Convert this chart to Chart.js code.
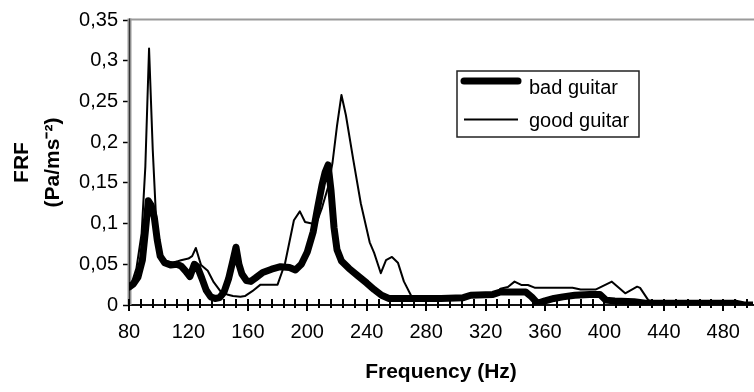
<!DOCTYPE html>
<html>
<head>
<meta charset="utf-8">
<script src="https://cdn.jsdelivr.net/npm/chart.js@4/dist/chart.umd.min.js"></script>
<style>
  html, body { margin: 0; padding: 0; overflow: hidden; background: #fff; }
  #wrap { position: relative; width: 760px; height: 392px; }
</style>
</head>
<body>
<div id="wrap"><canvas id="frf"></canvas></div>
<script>
// values
const badFreq = [80, 83, 86, 89, 91, 93, 95, 97, 99, 101, 104, 108, 112, 115, 118, 121, 124, 126, 129, 132,
  135, 138, 141, 144, 147, 150, 152, 154, 156, 159, 162, 165, 170, 176, 182, 188, 192, 196, 200, 204,
  207, 210, 212, 214, 216, 218, 220, 223, 228, 234, 240, 245, 250, 255, 260, 270, 290, 305, 310, 325,
  330, 347, 351, 355, 360, 366, 372, 380, 390, 397, 401, 407, 420, 429, 460, 489, 494, 500];
const badVal = [0.022, 0.026, 0.034, 0.055, 0.09, 0.128, 0.122, 0.108, 0.08, 0.06, 0.052, 0.049, 0.05, 0.048, 0.042, 0.035, 0.05, 0.047, 0.033, 0.018,
  0.01, 0.008, 0.009, 0.016, 0.032, 0.055, 0.071, 0.05, 0.038, 0.03, 0.029, 0.033, 0.04, 0.044, 0.047, 0.046, 0.043, 0.05, 0.065, 0.09,
  0.12, 0.148, 0.163, 0.172, 0.14, 0.095, 0.068, 0.054, 0.045, 0.036, 0.027, 0.019, 0.012, 0.008, 0.008, 0.008, 0.008, 0.009, 0.012, 0.013,
  0.016, 0.016, 0.01, 0.002, 0.005, 0.008, 0.01, 0.012, 0.013, 0.013, 0.006, 0.005, 0.004, 0.002, 0.002, 0.002, 0.0, 0.0];

const goodFreq = [80, 82, 85, 88.5, 91, 93.5, 96, 98.5, 100.7, 105, 110, 115, 120, 122.5, 125, 128.5, 133, 137, 141.5, 146,
  150, 155, 158, 163, 168.5, 180, 185, 191, 195, 198.5, 203, 206, 210, 214, 217, 220, 223, 226, 231, 236,
  242, 245, 249.5, 253, 257, 261, 265, 270, 273, 290, 305, 320, 327, 330, 335, 339.5, 344, 348.5, 353, 378.5,
  384, 394, 405, 414, 422, 424, 429.5, 440, 489, 494, 500];
const goodVal = [0.026, 0.028, 0.045, 0.088, 0.17, 0.315, 0.19, 0.096, 0.064, 0.054, 0.052, 0.055, 0.057, 0.06, 0.07, 0.049, 0.042, 0.028, 0.017, 0.013,
  0.011, 0.01, 0.011, 0.017, 0.025, 0.025, 0.051, 0.104, 0.115, 0.102, 0.1, 0.1, 0.12, 0.145, 0.175, 0.22, 0.258, 0.233, 0.178, 0.125,
  0.077, 0.064, 0.039, 0.055, 0.059, 0.052, 0.029, 0.011, 0.008, 0.008, 0.01, 0.013, 0.014, 0.02, 0.022, 0.0287, 0.0246, 0.0246, 0.0213, 0.0213,
  0.019, 0.019, 0.0287, 0.0144, 0.0225, 0.021, 0.006, 0.002, 0.002, 0.0, 0.0];

const seriesNames = ['bad guitar', 'good guitar'];
const xMin = 80, xMax = 500, xStep = 8, xLabelStep = 40;
const yMin = 0, yMax = 0.35, yStep = 0.05;

const FONT = '"Liberation Sans", Arial, sans-serif';
Chart.defaults.font.family = FONT;
Chart.defaults.color = '#000';

const toPts = (xs, ys) => xs.map((x, i) => ({ x: x, y: ys[i] }));

// frame lines + ticks that cross the x axis
const framePlugin = {
  id: 'frame',
  beforeDatasetsDraw(chart) {
    const { ctx, chartArea: a } = chart;
    ctx.save();
    ctx.strokeStyle = '#9a9a9a';
    ctx.lineWidth = 2;
    ctx.beginPath();
    ctx.moveTo(a.left, a.top - 0.5);
    ctx.lineTo(a.right + 5, a.top - 0.5);
    ctx.stroke();
    ctx.lineWidth = 4;
    ctx.beginPath();
    ctx.moveTo(a.left + 0.5, a.top - 1.5);
    ctx.lineTo(a.left + 0.5, a.bottom);
    ctx.stroke();
    ctx.strokeStyle = '#333';
    ctx.lineWidth = 1.2;
    ctx.beginPath();
    ctx.moveTo(a.left + 0.5, a.top - 1.5);
    ctx.lineTo(a.left + 0.5, a.bottom);
    ctx.stroke();

    const xs = chart.scales.x;
    ctx.strokeStyle = '#000';
    ctx.lineWidth = 2;
    for (let v = xMin; v <= xMax; v += xStep) {
      const px = Math.round(xs.getPixelForValue(v));
      const major = (v - xMin) % xLabelStep === 0;
      ctx.beginPath();
      ctx.moveTo(px, a.bottom - 6);
      ctx.lineTo(px, a.bottom + (major ? 6 : 3));
      ctx.stroke();
    }
    ctx.restore();
  }
};

const legendPlugin = {
  id: 'boxLegend',
  afterDraw(chart) {
    const { ctx } = chart;
    const ds = chart.data.datasets;
    ctx.save();
    ctx.fillStyle = '#fff';
    ctx.fillRect(457, 71, 182, 66);
    ctx.strokeStyle = '#222';
    ctx.lineWidth = 1.5;
    ctx.strokeRect(457, 71, 182, 66);
    const rows = [{ y: 81, ty: 93.5 }, { y: 119.5, ty: 126.5 }];
    ds.forEach((d, i) => {
      ctx.strokeStyle = d.borderColor;
      ctx.lineWidth = d.borderWidth;
      ctx.lineCap = d.borderWidth > 4 ? 'round' : 'butt';
      ctx.beginPath();
      ctx.moveTo(464, rows[i].y);
      ctx.lineTo(518, rows[i].y);
      ctx.stroke();
      ctx.fillStyle = '#000';
      ctx.font = '20px ' + FONT;
      ctx.textBaseline = 'alphabetic';
      ctx.textAlign = 'left';
      ctx.fillText(d.label, 529, rows[i].ty);
    });
    ctx.restore();
  }
};

new Chart(document.getElementById('frf'), {
  type: 'line',
  data: {
    datasets: [
      {
        label: seriesNames[0],
        data: toPts(badFreq, badVal),
        borderColor: '#000',
        borderWidth: 7,
        borderJoinStyle: 'round',
        borderCapStyle: 'round',
        pointRadius: 0,
        tension: 0
      },
      {
        label: seriesNames[1],
        data: toPts(goodFreq, goodVal),
        borderColor: '#000',
        borderWidth: 2,
        borderJoinStyle: 'round',
        pointRadius: 0,
        tension: 0
      }
    ]
  },
  options: {
    responsive: true,
    maintainAspectRatio: false,
    animation: false,
    layout: { padding: { top: 20, right: 1, left: 0, bottom: 0 } },
    plugins: {
      legend: { display: false },
      tooltip: { enabled: false }
    },
    scales: {
      x: {
        type: 'linear',
        min: xMin,
        max: xMax,
        afterFit(scale) { scale.height = 87; },
        border: { color: '#111', width: 2 },
        grid: { drawOnChartArea: false, tickLength: 8, tickColor: 'rgba(0,0,0,0)' },
        ticks: {
          stepSize: xStep,
          maxTicksLimit: 100,
          autoSkip: false,
          maxRotation: 0,
          padding: 7,
          font: { size: 20 },
          callback: v => ((v - xMin) % xLabelStep === 0 && v < xMax) ? String(v) : ''
        },
        title: {
          display: true,
          text: 'Frequency (Hz)',
          font: { size: 21, weight: 'bold', lineHeight: 1.2 },
          padding: { top: 0, bottom: 7.4 }
        }
      },
      y: {
        min: yMin,
        max: yMax,
        afterFit(scale) { scale.width = 129; },
        border: { display: false },
        grid: { drawOnChartArea: false, tickLength: 6, tickColor: '#000', tickWidth: 1.5 },
        ticks: {
          stepSize: yStep,
          padding: 5,
          font: { size: 20 },
          callback: v => String(Math.round(v * 100) / 100).replace('.', ',')
        },
        title: {
          display: true,
          text: ['FRF', '(Pa/ms\u207B\u00B2)'],
          font: { size: 21, weight: 'bold', lineHeight: 1.476 },
          padding: { top: 6.5, bottom: 0 }
        }
      }
    }
  },
  plugins: [framePlugin, legendPlugin]
});
</script>
</body>
</html>
